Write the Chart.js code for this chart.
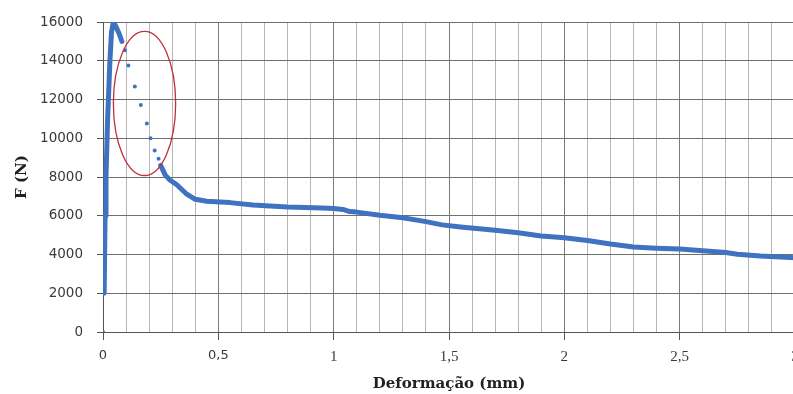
<!DOCTYPE html>
<html>
<head>
<meta charset="utf-8">
<script src="https://cdn.jsdelivr.net/npm/chart.js@4/dist/chart.umd.min.js"></script>
<style>
  html, body { margin:0; padding:0; background:#fff; overflow:hidden; }
  #wrap { width:810px; height:394px; }
</style>
</head>
<body>
<div id="wrap"><canvas id="chart-force" width="810" height="394"></canvas></div>
<script>
// Force vs deformation (mm) - loading branch, unstable drop, residual branch
const riseDef   = [0.005, 0.009, 0.013, 0.02, 0.03, 0.037, 0.045, 0.055, 0.07, 0.082];
const riseForce = [2000, 6000, 8000, 11000, 14000, 15500, 16000, 15800, 15400, 15000];

const dropDef   = [0, 0.095, 0.11, 0.138, 0.164, 0.19, 0.206, 0.224, 0.241];
const dropForce = [0, 14550, 13760, 12680, 11720, 10770, 10000, 9370, 8950];

const tailDef   = [0.25, 0.27, 0.29, 0.32, 0.36, 0.4, 0.45, 0.55, 0.65, 0.8, 0.95, 1.0, 1.04, 1.07, 1.1, 1.2, 1.3, 1.4, 1.47, 1.55, 1.7, 1.8, 1.9, 2.0, 2.1, 2.2, 2.3, 2.4, 2.5, 2.6, 2.7, 2.75, 2.85, 3.0];
const tailForce = [8600, 8100, 7850, 7600, 7150, 6850, 6750, 6680, 6560, 6450, 6400, 6380, 6330, 6220, 6190, 6030, 5900, 5700, 5530, 5420, 5250, 5120, 4960, 4870, 4720, 4540, 4390, 4330, 4290, 4200, 4100, 4010, 3920, 3830];

const forceTicks = [0, 2000, 4000, 6000, 8000, 10000, 12000, 14000, 16000];

// highlighted region around the drop (data units)
const markCenter = [0.18, 11800];
const markRadius = [0.135, 3720];

const toPoints = (xs, ys) => xs.map((x, i) => ({ x: x, y: ys[i] }));
const isMajor = v => Math.abs(v * 2 - Math.round(v * 2)) < 1e-6;

const blue = '#4072c2';

// red ellipse drawn over the drop region
const ellipsePlugin = {
  id: 'ellipse',
  afterDatasetsDraw(chart) {
    const { ctx, scales: { x, y } } = chart;
    const cx = x.getPixelForValue(markCenter[0]);
    const cy = y.getPixelForValue(markCenter[1]);
    const rx = Math.abs(x.getPixelForValue(markCenter[0] + markRadius[0]) - cx);
    const ry = Math.abs(y.getPixelForValue(markCenter[1] + markRadius[1]) - cy);
    ctx.save();
    ctx.beginPath();
    ctx.ellipse(cx, cy, rx, ry, 0, 0, Math.PI * 2);
    ctx.strokeStyle = '#c0303a';
    ctx.lineWidth = 1.3;
    ctx.stroke();
    ctx.restore();
  }
};

const ctx = document.getElementById('chart-force').getContext('2d');
new Chart(ctx, {
  type: 'scatter',
  data: {
    datasets: [
      {
        data: toPoints(riseDef, riseForce),
        showLine: true, borderColor: blue, borderWidth: 5,
        pointRadius: 0, borderJoinStyle: 'round', borderCapStyle: 'round'
      },
      {
        data: toPoints(dropDef, dropForce),
        showLine: false, pointRadius: 2, backgroundColor: blue, borderWidth: 0
      },
      {
        data: toPoints(tailDef, tailForce),
        showLine: true, borderColor: blue, borderWidth: 5,
        pointRadius: 0, borderJoinStyle: 'round', borderCapStyle: 'round'
      }
    ]
  },
  options: {
    responsive: false,
    animation: false,
    layout: { padding: { top: 21, right: 15, bottom: 0, left: 0 } },
    plugins: { legend: { display: false }, tooltip: { enabled: false } },
    scales: {
      x: {
        type: 'linear', min: 0, max: 3,
        afterFit: s => { s.height = 62; },
        border: { color: '#555', width: 1 },
        grid: {
          color: c => isMajor(c.tick.value) ? '#7a7a7a' : '#b6b6b6',
          tickColor: c => isMajor(c.tick.value) ? '#555' : 'rgba(0,0,0,0)',
          tickLength: 8
        },
        ticks: {
          stepSize: 0.1, autoSkip: false, maxRotation: 0, padding: 8,
          color: '#3a3a3a',
          font: c => (c.tick && c.tick.value < 1)
            ? { family: 'DejaVu Sans', size: 13 }
            : { family: 'Liberation Serif', size: 15 },
          callback: v => isMajor(v) ? String(Math.round(v * 2) / 2).replace('.', ',') : ''
        },
        title: {
          display: true, text: 'Deformação (mm)', color: '#222',
          font: { family: 'DejaVu Serif', size: 15, weight: 'bold' },
          padding: { top: 0, bottom: 1 }
        }
      },
      y: {
        min: 0, max: 16000,
        afterFit: s => { s.width = 103; },
        afterBuildTicks: s => { s.ticks = forceTicks.map(v => ({ value: v })); },
        border: { color: '#555', width: 1 },
        grid: { color: '#707070', tickColor: '#555', tickLength: 6 },
        ticks: {
          padding: 14, color: '#3a3a3a',
          font: { family: 'DejaVu Sans', size: 13.5 },
          callback: v => String(v)
        },
        title: {
          display: true, text: 'F (N)', color: '#222',
          font: { family: 'DejaVu Serif', size: 15, weight: 'bold' },
          padding: { top: 13, bottom: 0 }
        }
      }
    }
  },
  plugins: [ellipsePlugin]
});
</script>
</body>
</html>
